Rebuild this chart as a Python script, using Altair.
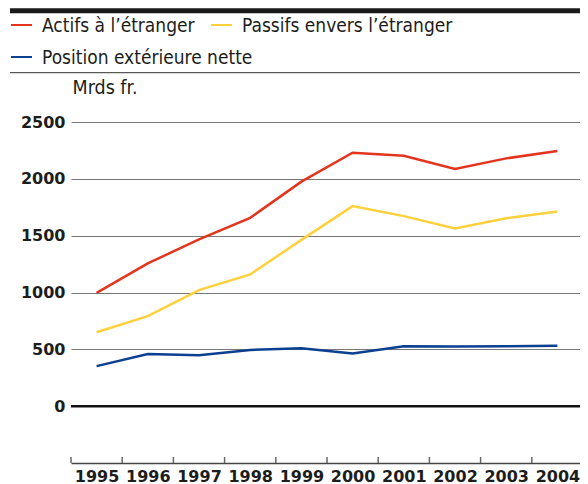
import altair as alt
import pandas as pd

# ---- data ----
years = [1995, 1996, 1997, 1998, 1999, 2000, 2001, 2002, 2003, 2004]
actifs = [997, 1256, 1467, 1657, 1975, 2230, 2203, 2086, 2180, 2245]
passifs = [650, 792, 1021, 1159, 1463, 1760, 1672, 1564, 1654, 1713]
nette = [352, 458, 449, 495, 510, 464, 528, 525, 527, 532]
series = ["Actifs à l’étranger", "Passifs envers l’étranger", "Position extérieure nette"]
colors = ["#e3351e", "#fdd13c", "#0b3f8f"]
y_ticks = [0, 500, 1000, 1500, 2000, 2500]
unit = "Mrds fr."

rows = []
for name, vals in zip(series, [actifs, passifs, nette]):
    for yr, v in zip(years, vals):
        rows.append({"year": yr, "value": v, "series": name})
df = pd.DataFrame(rows)
df_ticks = pd.DataFrame({"edge": [y - 0.5 for y in years]})
one = pd.DataFrame({"k": [0]})

FONT = "DejaVu Sans Condensed"
AXFONT = "DejaVu Sans"
TXT = "#1d1d1b"
W, H = 509, 341
BAND = 51.2

xscale = alt.Scale(domain=[1994.5, 1994.5 + W / BAND], nice=False, zero=False)
yscale = alt.Scale(domain=[-500, 2500], nice=False, zero=False)

base_x = alt.X(
    "year:Q", scale=xscale,
    axis=alt.Axis(values=years, format="d", ticks=False, grid=False,
                  labelFont=AXFONT, labelFontWeight="bold", labelFontSize=16,
                  labelColor=TXT, labelPadding=5, domainColor="#444",
                  domainWidth=1.5, labelOverlap=False, labelBound=False,
                  labelFlush=False, title=None))
base_y = alt.Y(
    "value:Q", scale=yscale,
    axis=alt.Axis(values=y_ticks, format="d", grid=True, gridColor="#777",
                  gridWidth=1, domain=False, ticks=False, labelPadding=6,
                  labelFont=AXFONT, labelFontWeight="bold", labelFontSize=16,
                  labelColor=TXT, title=unit, titleAngle=0, titleX=1,
                  titleY=-29, titleAlign="left", titleBaseline="alphabetic",
                  titleFont=FONT, titleFontSize=19.5, titleFontWeight="normal",
                  titleColor=TXT))

lines = alt.Chart(df).mark_line(strokeWidth=2.5, clip=True).encode(
    x=base_x,
    y=base_y,
    color=alt.Color("series:N", sort=series,
                    scale=alt.Scale(domain=series, range=colors), legend=None),
)

zero = alt.Chart(one).mark_rule(color="#111", strokeWidth=2.5).encode(
    y=alt.datum(0, scale=yscale), x=alt.value(0), x2=alt.value(W))

ticks = alt.Chart(df_ticks).mark_rule(color="#666", strokeWidth=1.5).encode(
    x=alt.X("edge:Q", scale=xscale), y=alt.value(H), y2=alt.value(H - 6))

top_bar = alt.Chart(one).mark_rule(color="#1a1a1a", strokeWidth=5).encode(
    x=alt.value(-61), x2=alt.value(W), y=alt.value(-111.2))
thin = alt.Chart(one).mark_rule(color="#333", strokeWidth=1).encode(
    x=alt.value(-61), x2=alt.value(W), y=alt.value(-49.3))

# manual flow legend (two items on the first row, one on the second)
legend_pos = [(-60, -97), (140, -97), (-60, -65)]
legend_layers = []
for name, col, (lx, ly) in zip(series, colors, legend_pos):
    d = pd.DataFrame({"series": [name]})
    legend_layers.append(
        alt.Chart(d).mark_rule(color=col, strokeWidth=2).encode(
            x=alt.value(lx), x2=alt.value(lx + 21), y=alt.value(ly)))
    legend_layers.append(
        alt.Chart(d).mark_text(align="left", baseline="middle", font=FONT,
                               fontSize=19, color=TXT).encode(
            text="series:N", x=alt.value(lx + 31), y=alt.value(ly + 1)))

chart = alt.layer(zero, ticks, lines, top_bar, thin, *legend_layers).properties(
    width=W, height=H, autosize="none",
    padding={"left": 63, "top": 114, "right": 0, "bottom": 30},
    background="white",
).configure_view(stroke=None)

chart.save("out.html", embed_options={"renderer": "svg", "actions": False})
